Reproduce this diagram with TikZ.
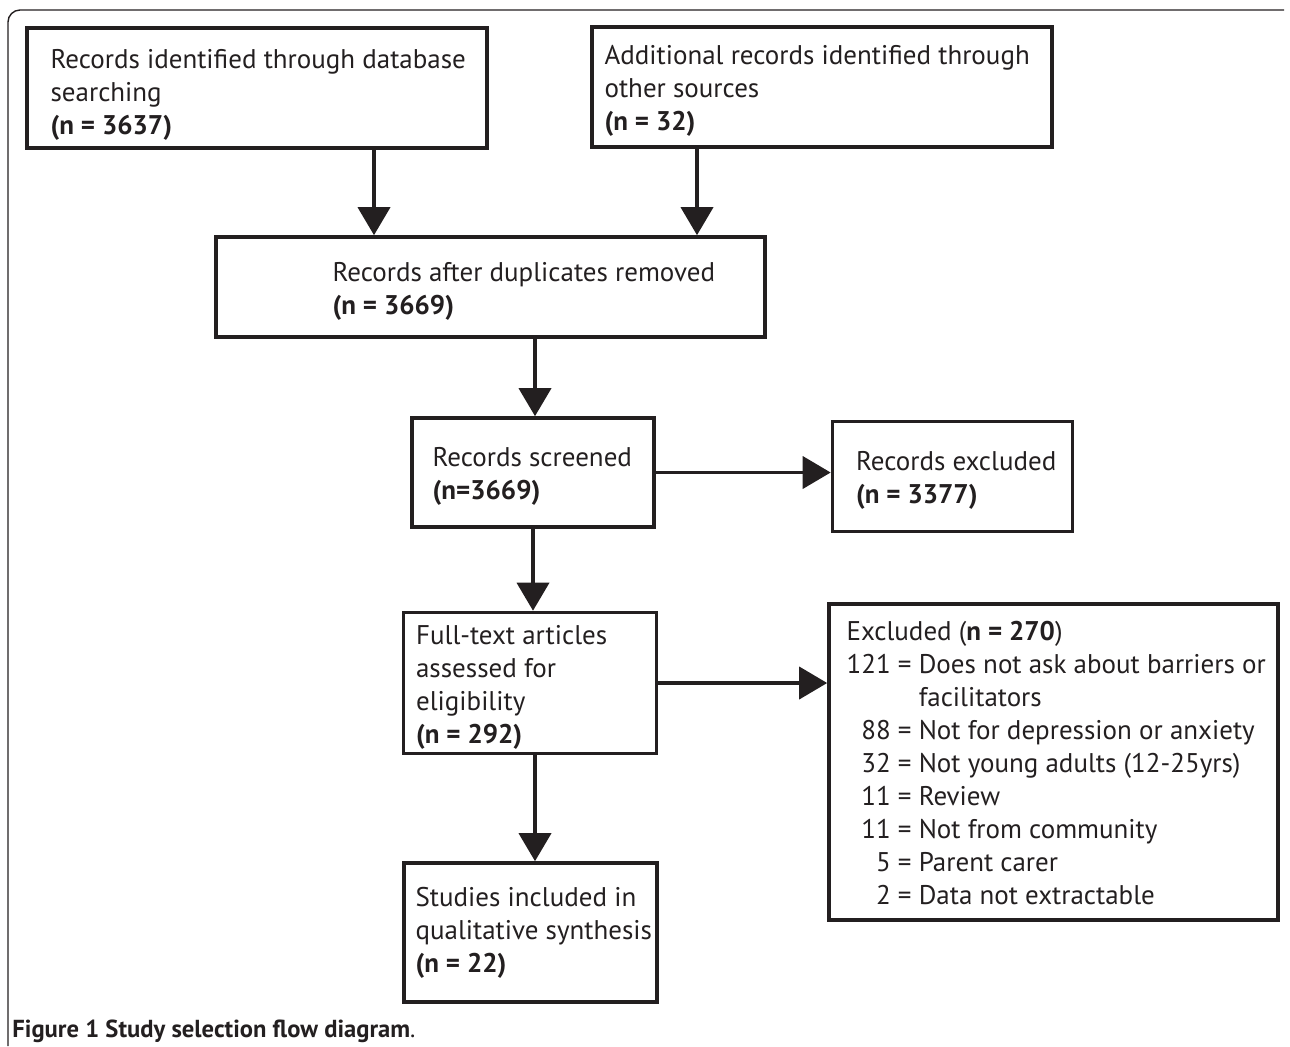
\documentclass[tikz,border=0pt]{standalone}
\usepackage{fontspec}
\setmainfont{PT Sans}
\usetikzlibrary{positioning,arrows.meta}
\definecolor{ink}{HTML}{231F20}
\tikzset{
  box/.style={draw=ink, line width=1.8pt, inner sep=0pt},
  txt/.style={inner sep=0pt, align=left, text=ink, yshift=-2pt, font=\fontsize{13.5}{16.5}\selectfont},
  arr/.style={draw=ink, line width=1.9pt, -{Triangle[length=14pt,width=16pt]}},
}
\begin{document}
\begin{tikzpicture}[x=0.5pt,y=-0.5pt]
  \useasboundingbox (0,0) rectangle (1290,1046);
  % frame
  \draw[ink, line width=0.7pt, rounded corners=6pt] (8,1046) -- (8,10) -- (1284,10);
  % boxes
  \node[box, minimum width=230pt, minimum height=60pt] (db) at (257,88) {};
  \node[txt, right=12.5pt of db.west, yshift=-1.5pt] (dbt)
    {Records identified through database\\searching\\\textbf{(n = 3637)}};
  \node[box, minimum width=230pt, minimum height=60pt] (other) at (822,87) {};
  \node[txt, right=7pt of other.west] (othert)
    {Additional records identified through\\other sources\\\textbf{(n = 32)}};
  \node[box, minimum width=274.5pt, minimum height=50pt] (dup) at (490.5,287) {};
  \node[txt, right=59pt of dup.west] (dupt)
    {Records after duplicates removed\\\textbf{(n = 3669)}};
  \node[box, minimum width=121pt, minimum height=54.5pt] (screen) at (533,472.5) {};
  \node[txt, right=11pt of screen.west] (screent)
    {Records screened\\\textbf{(n=3669)}};
  \node[box, minimum width=120pt, minimum height=55pt] (recex) at (952.5,476.5) {};
  \node[txt, right=12.5pt of recex.west] (recext)
    {Records excluded\\\textbf{(n = 3377)}};
  \node[box, minimum width=126.5pt, minimum height=70.5pt] (full) at (530,683) {};
  \node[txt, right=7pt of full.west] (fullt)
    {Full-text articles\\assessed for\\eligibility\\\textbf{(n = 292)}};
  \node[box, minimum width=224.5pt, minimum height=158pt] (excl) at (1053.5,762) {};
  \node[txt, right=9.5pt of excl.west] (exclt)
    {\begin{tabular}{@{}r@{ = }l@{}}
      \multicolumn{2}{@{}l@{}}{Excluded (\textbf{n = 270})}\\
      121 & Does not ask about barriers or\\
      \multicolumn{2}{@{}l@{}}{\phantom{121 = }facilitators}\\
      88 & Not for depression or anxiety\\
      32 & Not young adults (12-25yrs)\\
      11 & Review\\
      11 & Not from community\\
      5 & Parent carer\\
      2 & Data not extractable
    \end{tabular}};
  \node[box, minimum width=126.5pt, minimum height=69.5pt] (incl) at (530.5,932.5) {};
  \node[txt, right=6.5pt of incl.west, yshift=2pt] (inclt)
    {Studies included in\\qualitative synthesis\\\textbf{(n = 22)}};
  % arrows
  \coordinate (xa) at (374,0);
  \coordinate (xb) at (697,0);
  \coordinate (xc) at (535,0);
  \draw[arr] (db.south -| xa) -- (dup.north -| xa);
  \draw[arr] (other.south -| xb) -- (dup.north -| xb);
  \draw[arr] (dup.south -| xc) -- (screen.north -| xc);
  \draw[arr] (screen.east) -- (screen.east -| recex.west);
  \draw[arr] (screen.south) -- (screen.south |- full.north);
  \draw[arr] (full.east) -- (full.east -| excl.west);
  \draw[arr] (full.south -| xc) -- (incl.north -| xc);
  % caption
  \node[anchor=west, inner sep=0pt, text=ink, font=\fontsize{12.3}{14}\selectfont] (cap) at (12,1031)
    {\textbf{Figure 1 Study selection flow diagram}.};
\end{tikzpicture}
\end{document}
